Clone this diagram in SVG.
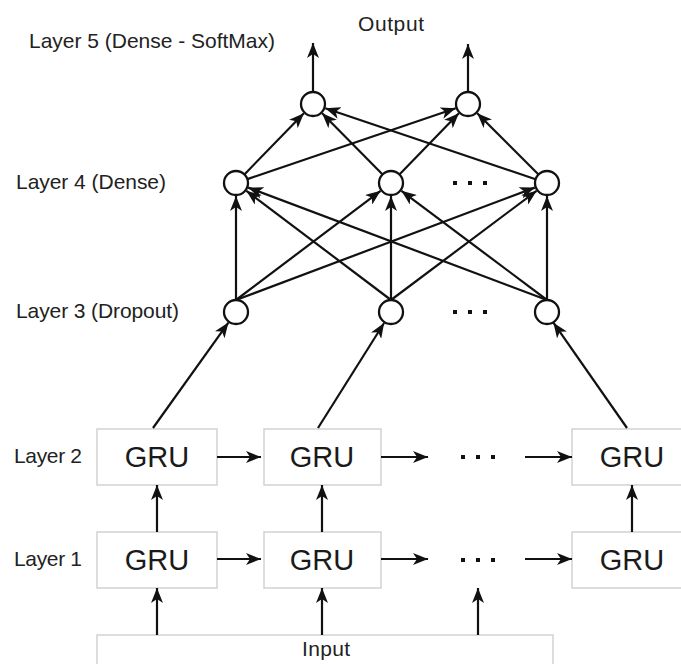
<svg xmlns="http://www.w3.org/2000/svg" width="681" height="664" viewBox="0 0 681 664">
<style>
.lbl{font-family:"Liberation Sans",Arial,sans-serif;font-size:21px;fill:#222}
.gru{font-family:"Liberation Sans",Arial,sans-serif;font-size:29px;fill:#1a1a1a;text-anchor:middle}
.box{fill:#fff;stroke:#d2d2d2;stroke-width:1.5}
.node{fill:#fff;stroke:#111;stroke-width:2.3}
.c line{stroke:#111;stroke-width:2.2;marker-end:url(#ah)}
.dot{fill:#111}
</style>
<defs>
<marker id="ah" markerUnits="userSpaceOnUse" markerWidth="16" markerHeight="12" refX="15" refY="6" orient="auto">
<path d="M0,0 L15,6 L0,12 L4,6 Z" fill="#111"/>
</marker>
</defs>
<rect width="681" height="664" fill="#fff"/>

<g id="labels">
<text class="lbl" x="29" y="48" textLength="246">Layer 5 (Dense - SoftMax)</text>
<text class="lbl" x="358" y="31" textLength="66">Output</text>
<text class="lbl" x="16" y="189" textLength="150">Layer 4 (Dense)</text>
<text class="lbl" x="16" y="318" textLength="163">Layer 3 (Dropout)</text>
<text class="lbl" x="14" y="463" textLength="68">Layer 2</text>
<text class="lbl" x="14" y="566" textLength="68">Layer 1</text>
</g>

<g id="input"><rect class="box" x="97" y="635" width="456" height="40"/><text class="lbl" x="302" y="656" textLength="48">Input</text></g>

<g id="l2a"><rect class="box" x="97" y="429" width="120" height="56"/><text class="gru" x="157" y="467">GRU</text></g>
<g id="l2b"><rect class="box" x="264" y="429" width="117" height="56"/><text class="gru" x="322" y="467">GRU</text></g>
<g id="l2c"><rect class="box" x="572" y="429" width="120" height="56"/><text class="gru" x="632" y="467">GRU</text></g>
<g id="l1a"><rect class="box" x="97" y="532" width="120" height="56"/><text class="gru" x="157" y="570">GRU</text></g>
<g id="l1b"><rect class="box" x="264" y="532" width="117" height="56"/><text class="gru" x="322" y="570">GRU</text></g>
<g id="l1c"><rect class="box" x="572" y="532" width="120" height="56"/><text class="gru" x="632" y="570">GRU</text></g>

<g id="dots">
<rect class="dot" x="461" y="455" width="4" height="4"/><rect class="dot" x="476" y="455" width="4" height="4"/><rect class="dot" x="491" y="455" width="4" height="4"/>
<rect class="dot" x="461" y="558" width="4" height="4"/><rect class="dot" x="476" y="558" width="4" height="4"/><rect class="dot" x="491" y="558" width="4" height="4"/>
<rect class="dot" x="453" y="181" width="4" height="4"/><rect class="dot" x="468" y="181" width="4" height="4"/><rect class="dot" x="483" y="181" width="4" height="4"/>
<rect class="dot" x="453" y="310" width="4" height="4"/><rect class="dot" x="468" y="310" width="4" height="4"/><rect class="dot" x="483" y="310" width="4" height="4"/>
</g>

<g id="connectors" class="c">
<line x1="313" y1="92" x2="313" y2="43"/>
<line x1="468" y1="92" x2="468" y2="44"/>
<line x1="244.4" y1="174.4" x2="303.9" y2="113.3"/>
<line x1="247.4" y1="179.1" x2="455.7" y2="108.2"/>
<line x1="382.6" y1="174.5" x2="322.1" y2="113.3"/>
<line x1="399.4" y1="174.4" x2="458.9" y2="113.3"/>
<line x1="535.6" y1="179.2" x2="325.3" y2="108.2"/>
<line x1="538.5" y1="174.5" x2="477.2" y2="113.2"/>
<line x1="236" y1="300" x2="236" y2="196"/>
<line x1="236" y1="300" x2="380.6" y2="190.8"/>
<line x1="236" y1="300" x2="534.8" y2="187.6"/>
<line x1="391" y1="300" x2="246.4" y2="190.8"/>
<line x1="391" y1="300" x2="391" y2="196"/>
<line x1="391" y1="300" x2="536.6" y2="190.8"/>
<line x1="547" y1="300" x2="248.2" y2="187.6"/>
<line x1="547" y1="300" x2="401.4" y2="190.8"/>
<line x1="547" y1="300" x2="547" y2="196"/>
<line x1="153" y1="428" x2="228.4" y2="322.6"/>
<line x1="318" y1="428" x2="384.1" y2="323"/>
<line x1="627" y1="428" x2="553.4" y2="322.7"/>
<line x1="157" y1="532" x2="157" y2="485"/>
<line x1="322" y1="532" x2="322" y2="485"/>
<line x1="632" y1="532" x2="632" y2="485"/>
<line x1="157" y1="635" x2="157" y2="588"/>
<line x1="322" y1="635" x2="322" y2="588"/>
<line x1="478" y1="635" x2="478" y2="588"/>
<line x1="217" y1="457" x2="261" y2="457"/>
<line x1="381" y1="457" x2="428" y2="457"/>
<line x1="525" y1="457" x2="572" y2="457"/>
<line x1="217" y1="559" x2="261" y2="559"/>
<line x1="381" y1="559" x2="428" y2="559"/>
<line x1="525" y1="559" x2="572" y2="559"/>
</g>

<g id="n5a"><circle class="node" cx="313" cy="104" r="12"/></g>
<g id="n5b"><circle class="node" cx="468" cy="104" r="12"/></g>
<g id="n4a"><circle class="node" cx="236" cy="183" r="12"/></g>
<g id="n4b"><circle class="node" cx="391" cy="183" r="12"/></g>
<g id="n4c"><circle class="node" cx="547" cy="183" r="12"/></g>
<g id="n3a"><circle class="node" cx="236" cy="312" r="12"/></g>
<g id="n3b"><circle class="node" cx="391" cy="312" r="12"/></g>
<g id="n3c"><circle class="node" cx="547" cy="312" r="12"/></g>
</svg>
